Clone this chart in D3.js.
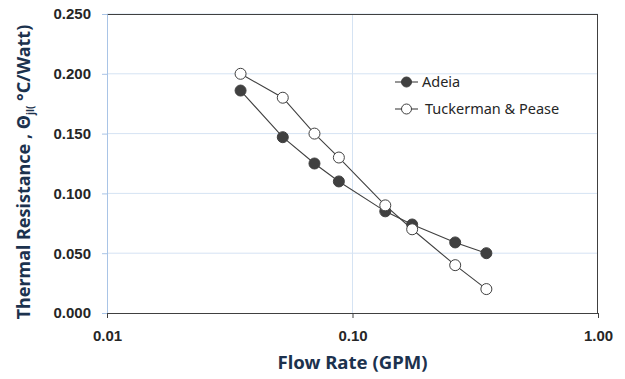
<!DOCTYPE html>
<html>
<head>
<meta charset="utf-8">
<script src="https://cdn.jsdelivr.net/npm/d3@7"></script>
<style>
body { margin: 0; background: #fff; }
svg { display: block; font-family: "Noto Sans", "Open Sans", sans-serif; }
</style>
</head>
<body>
<svg id="chart"></svg>
<script>
// flow rate (GPM) and thermal resistance
var adeiaFlow = [0.035, 0.052, 0.070, 0.088, 0.136, 0.175, 0.262, 0.351];
var adeiaTheta = [0.186, 0.147, 0.125, 0.110, 0.085, 0.074, 0.059, 0.050];
var tpFlow = [0.035, 0.052, 0.070, 0.088, 0.136, 0.175, 0.262, 0.351];
var tpTheta = [0.200, 0.180, 0.150, 0.130, 0.090, 0.070, 0.040, 0.020];
var xTicks = [0.01, 0.1, 1];
var yTicks = [0, 0.05, 0.1, 0.15, 0.2, 0.25];
var seriesNames = ["Adeia", "Tuckerman & Pease"];

var W = 625, H = 379;
var margin = { top: 14, right: 27, bottom: 66, left: 107 };
var width = W - margin.left - margin.right;
var height = H - margin.top - margin.bottom;

var svg = d3.select("#chart").attr("width", W).attr("height", H);
var g = svg.append("g")
    .attr("transform", "translate(" + margin.left + "," + margin.top + ")");

var x = d3.scaleLog().domain([0.01, 1]).range([0, width]);
var y = d3.scaleLinear().domain([0, 0.25]).range([height, 0]);

var gridColor = "#d5e3f3";
var lineColor = "#404040";
var tickFont = "'Liberation Sans', Arial, sans-serif";

// gridlines
g.selectAll(".hgrid").data(yTicks.slice(1)).enter().append("line")
    .attr("x1", 0).attr("x2", width)
    .attr("y1", function(d) { return y(d); })
    .attr("y2", function(d) { return y(d); })
    .attr("stroke", gridColor).attr("stroke-width", 1);
g.selectAll(".vgrid").data(xTicks.slice(1, 2)).enter().append("line")
    .attr("x1", function(d) { return x(d); })
    .attr("x2", function(d) { return x(d); })
    .attr("y1", 0).attr("y2", height)
    .attr("stroke", gridColor).attr("stroke-width", 1);

// frame
g.append("line").attr("x1", 0).attr("x2", width).attr("y1", 0.5).attr("y2", 0.5)
    .attr("stroke", "#404040").attr("stroke-width", 1);
g.append("line").attr("x1", width - 0.5).attr("x2", width - 0.5).attr("y1", 0).attr("y2", height)
    .attr("stroke", "#404040").attr("stroke-width", 1);

// y axis
var yAxis = d3.axisLeft(y).tickValues(yTicks).tickFormat(d3.format(".3f"))
    .tickSize(5).tickPadding(11);
var gy = g.append("g").call(yAxis);
gy.select(".domain").attr("stroke", "#a9c4e6");
gy.selectAll(".tick line").attr("stroke", "#a9c4e6");
gy.selectAll("text").attr("font-family", tickFont).attr("font-size", 15)
    .attr("font-weight", "bold").attr("fill", "#262626");

// x axis
var xAxis = d3.axisBottom(x).tickValues(xTicks).tickFormat(d3.format(".2f"))
    .tickSize(5).tickPadding(12);
var gx = g.append("g").attr("transform", "translate(0," + height + ")").call(xAxis);
gx.select(".domain").attr("stroke", "#404040");
gx.selectAll(".tick line").attr("stroke", "#404040");
gx.selectAll("text").attr("font-family", tickFont).attr("font-size", 15)
    .attr("font-weight", "bold").attr("fill", "#262626");

// axis titles
svg.append("text")
    .attr("x", margin.left + x(0.1)).attr("y", 369)
    .attr("text-anchor", "middle")
    .attr("font-size", 18).attr("font-weight", "bold").attr("fill", "#1c324e")
    .attr("textLength", 150).attr("lengthAdjust", "spacingAndGlyphs")
    .text("Flow Rate (GPM)");

var yt = svg.append("text")
    .attr("transform", "translate(30," + 172 + ") rotate(-90)")
    .attr("text-anchor", "middle")
    .attr("font-size", 18).attr("font-weight", "bold").attr("fill", "#1c324e");
yt.append("tspan").text("Thermal Resistance , \u0398");
yt.append("tspan").attr("font-size", 10).attr("dy", 4).text("jl(");
yt.append("tspan").attr("dy", -4).text(" \u00b0C/Watt)");

// series
var series = [
    { name: seriesNames[0], xs: adeiaFlow, ys: adeiaTheta, fill: "#404040" },
    { name: seriesNames[1], xs: tpFlow, ys: tpTheta, fill: "#ffffff" }
];

var line = d3.line()
    .x(function(d) { return x(d[0]); })
    .y(function(d) { return y(d[1]); });

series.forEach(function(s) {
    var pts = d3.zip(s.xs, s.ys);
    g.append("path").datum(pts)
        .attr("fill", "none").attr("stroke", lineColor).attr("stroke-width", 1.1)
        .attr("d", line);
    g.selectAll(null).data(pts).enter().append("circle")
        .attr("cx", function(d) { return x(d[0]); })
        .attr("cy", function(d) { return y(d[1]); })
        .attr("r", 5.5)
        .attr("fill", s.fill).attr("stroke", lineColor).attr("stroke-width", 1);
});

// legend
var legend = svg.append("g").attr("transform", "translate(395,82)");
series.forEach(function(s, i) {
    var row = legend.append("g").attr("transform", "translate(0," + (i * 27) + ")");
    row.append("line").attr("x1", 0).attr("x2", 23).attr("y1", 0).attr("y2", 0)
        .attr("stroke", lineColor).attr("stroke-width", 1.1);
    row.append("circle").attr("cx", 11.5).attr("cy", 0).attr("r", 5)
        .attr("fill", s.fill).attr("stroke", lineColor).attr("stroke-width", 1);
    row.append("text").attr("x", i === 0 ? 27 : 30).attr("y", 5)
        .attr("font-size", 14.5).attr("fill", "#262626")
        .text(s.name);
});
</script>
</body>
</html>
